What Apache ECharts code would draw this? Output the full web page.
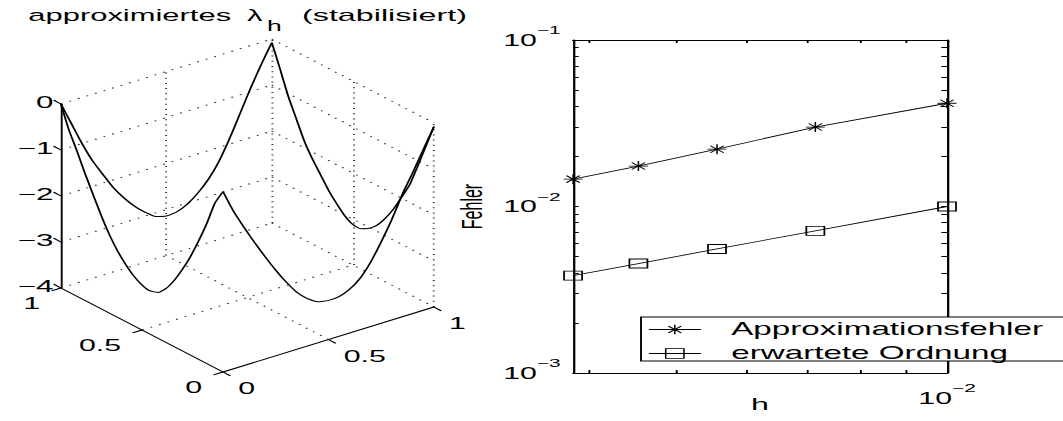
<!DOCTYPE html>
<html>
<head>
<meta charset="utf-8">
<script src="https://cdn.jsdelivr.net/npm/echarts@6/dist/echarts.min.js"></script>
<style>
  html, body { margin: 0; padding: 0; background: #fff; overflow: hidden; }
  /* the figure is laid out on a 560 px wide page and widened to fill the window */
  #chart { width: 560px; height: 421px; transform: scaleX(1.898214); transform-origin: 0 0; }
</style>
</head>
<body>
<div id="chart"></div>
<script>
// ---------- convergence study (right panel) ----------
const hValues       = [0.003846, 0.004545, 0.005556, 0.007143, 0.01];
const approxError   = [0.0146, 0.0175, 0.0221, 0.0300, 0.0417];
const expectedOrder = [0.003846, 0.004545, 0.005556, 0.007143, 0.01];
const hTickValues     = [0.004, 0.005, 0.006, 0.007, 0.008, 0.009, 0.01];
const hLabelValues    = [0.01];
const errorTickValues = [0.001, 0.002, 0.003, 0.004, 0.005, 0.006, 0.007, 0.008, 0.009,
                         0.01, 0.02, 0.03, 0.04, 0.05, 0.06, 0.07, 0.08, 0.09, 0.1];
const errorLabelValues = [0.001, 0.01, 0.1];
const seriesNames = ['Approximationsfehler', 'erwartete Ordnung'];

// ---------- approximated lambda_h on the boundary of the unit square (left panel) ----------
const edgeParam    = [0, 0.05, 0.1, 0.15, 0.2, 0.25, 0.3, 0.35, 0.4, 0.45, 0.5,
                      0.55, 0.6, 0.65, 0.7, 0.75, 0.8, 0.85, 0.9, 0.95, 1];
// edge y = 1, x running 0 -> 1
const lambdaTop    = [0, -0.50, -1.00, -1.45, -1.82, -2.18, -2.47, -2.72, -2.92, -3.08, -3.14,
                      -3.12, -3.02, -2.85, -2.62, -2.30, -1.88, -1.40, -0.92, -0.48, -0.08];
// edge x = 1, y running 1 -> 0
const lambdaRight  = [-0.08, -0.55, -1.05, -1.45, -1.85, -2.15, -2.40, -2.65, -2.85, -3.02, -3.12,
                      -3.12, -3.02, -2.86, -2.62, -2.33, -1.98, -1.62, -1.12, -0.60, -0.08];
// edge x = 0, y running 1 -> 0
const lambdaLeft   = [0, -0.48, -0.85, -1.25, -1.62, -1.98, -2.30, -2.56, -2.76, -2.92, -3.02,
                      -3.06, -3.00, -2.82, -2.55, -2.22, -1.85, -1.42, -0.95, -0.42, -0.08];
// edge y = 0, x running 0 -> 1
const lambdaBottom = [-0.08, -0.58, -1.00, -1.40, -1.78, -2.14, -2.47, -2.76, -2.97, -3.11, -3.15,
                      -3.14, -3.05, -2.88, -2.60, -2.23, -1.82, -1.34, -0.93, -0.50, -0.08];
const zTicks  = [0, -1, -2, -3, -4];
const xyTicks = [0, 0.5, 1];

const FONT = '"Liberation Sans", Arial, Helvetica, sans-serif';
const MINUS = '\u2212';
const W = 560, H = 421;

// Oblique view of the box [0,1] x [0,1] x [-4,0]: screen position of the floor
// corner (0,0,-4) and the screen step for one unit along x, y and z.
const VIEW = { ox: 117.5, oy: 372, ex: [111.1, -65], ey: [-85.4, -84], ez: 46, zFloor: -4 };
function project(x, y, z) {
  return [VIEW.ox + VIEW.ex[0] * x + VIEW.ey[0] * y,
          VIEW.oy + VIEW.ex[1] * x + VIEW.ey[1] * y - VIEW.ez * (z - VIEW.zFloor)];
}
function edgePoints(values, fx, fy) {
  return values.map((z, i) => project(fx(edgeParam[i]), fy(edgeParam[i]), z));
}
const seg = (a, b) => ({ coords: [a, b] });

// dotted grid on the two back walls and the floor
const gridSegs = [];
zTicks.forEach(z => {
  gridSegs.push(seg(project(0, 1, z), project(1, 1, z)));
  gridSegs.push(seg(project(1, 1, z), project(1, 0, z)));
});
[0.5, 1].forEach(x => gridSegs.push(seg(project(x, 1, -4), project(x, 1, 0))));
[0.5, 0].forEach(y => gridSegs.push(seg(project(1, y, -4), project(1, y, 0))));
gridSegs.push(seg(project(0.5, 0, -4), project(0.5, 1, -4)));
gridSegs.push(seg(project(0, 0.5, -4), project(1, 0.5, -4)));

// solid axes and their ticks
const TICK = 0.045;
const axisSegs = [
  seg(project(0, 1, -4), project(0, 1, 0)),
  seg(project(0, 1, -4), project(0, 0, -4)),
  seg(project(0, 0, -4), project(1, 0, -4))
];
zTicks.forEach(z => axisSegs.push(seg(project(0, 1, z), project(0, 1 + TICK, z))));
xyTicks.forEach(v => {
  axisSegs.push(seg(project(0, v, -4), project(-TICK, v, -4)));
  axisSegs.push(seg(project(v, 0, -4), project(v, -TICK, -4)));
});

const curveSeries = [
  edgePoints(lambdaTop,    t => t, t => 1),
  edgePoints(lambdaRight,  t => 1, t => 1 - t),
  edgePoints(lambdaLeft,   t => 0, t => 1 - t),
  edgePoints(lambdaBottom, t => t, t => 0)
].map(pts => ({
  type: 'line', xAxisIndex: 0, yAxisIndex: 0, data: pts, showSymbol: false, symbol: 'none',
  smooth: 0.2, silent: true, z: 4, lineStyle: { color: '#000', width: 1 }
}));

// ---------- log axes helpers ----------
function powLabel(v) {
  const e = Math.round(Math.log10(v));
  return '{b|10}{e|' + (e < 0 ? MINUS + (-e) : String(e)) + '}';
}
const powRich = {
  b: { fontSize: 16, lineHeight: 30, fontFamily: FONT, color: '#000' },
  e: { fontSize: 11, lineHeight: 11, verticalAlign: 'top', fontFamily: FONT, color: '#000' }
};
const boxLine = { show: true, onZero: false, lineStyle: { color: '#000', width: 1.2 } };
const innerTick = vals => ({ show: true, inside: true, length: 3, customValues: vals,
                             lineStyle: { color: '#000', width: 1 } });

const ASTERISK = 'path://M0,5L10,5M5,0L5,10M1.5,1.5L8.5,8.5M1.5,8.5L8.5,1.5';
const hMin = hValues[0], hMax = hValues[hValues.length - 1];

const option = {
  backgroundColor: '#fff',
  animation: false,
  grid: [
    { left: 0, top: 0, width: W, height: H, show: false, outerBoundsMode: 'none' },
    { left: 301.9, top: 40, width: 197, height: 333, show: false, outerBoundsMode: 'none' }
  ],
  xAxis: [
    { gridIndex: 0, type: 'value', min: 0, max: W, show: false },
    { gridIndex: 1, type: 'log', logBase: 10, min: hMin, max: hMax, position: 'bottom',
      axisLine: boxLine, axisTick: innerTick(hTickValues), splitLine: { show: false },
      axisLabel: { customValues: hLabelValues, formatter: powLabel, rich: powRich, margin: 10 },
      name: 'h', nameLocation: 'middle', nameGap: 23, nameMoveOverlap: false,
      nameTextStyle: { fontSize: 17, fontFamily: FONT, color: '#000', verticalAlign: 'top' } },
    { gridIndex: 1, type: 'log', logBase: 10, min: hMin, max: hMax, position: 'top',
      axisLine: boxLine, axisTick: innerTick(hTickValues), splitLine: { show: false },
      axisLabel: { show: false } }
  ],
  yAxis: [
    { gridIndex: 0, type: 'value', min: 0, max: H, inverse: true, show: false },
    { gridIndex: 1, type: 'log', logBase: 10, min: 0.001, max: 0.1, position: 'left',
      axisLine: boxLine, axisTick: innerTick(errorTickValues), splitLine: { show: false },
      axisLabel: { customValues: errorLabelValues, formatter: powLabel, rich: powRich, margin: 6.5 },
      name: 'Fehler', nameLocation: 'middle', nameGap: 45.5, nameRotate: 90, nameMoveOverlap: false,
      nameTextStyle: { fontSize: 16, fontFamily: FONT, color: '#000' } },
    { gridIndex: 1, type: 'log', logBase: 10, min: 0.001, max: 0.1, position: 'right',
      axisLine: boxLine, axisTick: innerTick(errorTickValues), splitLine: { show: false },
      axisLabel: { show: false } }
  ],
  legend: {
    orient: 'vertical', left: 341.4, top: 320.5, padding: 0, z: 20,
    itemWidth: 27.4, itemHeight: 12, itemGap: 6, selectedMode: false,
    lineStyle: { color: '#000', width: 0.8 },
    itemStyle: { borderColor: '#000', borderWidth: 0.8 },
    textStyle: { fontSize: 17.5, lineHeight: 17, fontFamily: FONT, color: '#000', padding: [0, 0, 0, 11] },
    data: seriesNames
  },
  series: [
    { type: 'lines', coordinateSystem: 'cartesian2d', xAxisIndex: 0, yAxisIndex: 0, silent: true, z: 1,
      polyline: false, data: gridSegs, lineStyle: { color: '#333', width: 1, type: [1, 4.2], opacity: 1 } },
    { type: 'lines', coordinateSystem: 'cartesian2d', xAxisIndex: 0, yAxisIndex: 0, silent: true, z: 2,
      polyline: false, data: axisSegs, lineStyle: { color: '#000', width: 1, opacity: 1 } },
    ...curveSeries,
    { name: seriesNames[0], type: 'line', xAxisIndex: 1, yAxisIndex: 1, z: 5,
      data: hValues.map((h, i) => [h, approxError[i]]),
      symbol: ASTERISK, symbolSize: 10,
      lineStyle: { color: '#000', width: 0.8 },
      itemStyle: { color: '#000', borderColor: '#000', borderWidth: 0.8 } },
    { name: seriesNames[1], type: 'line', xAxisIndex: 1, yAxisIndex: 1, z: 5,
      data: hValues.map((h, i) => [h, expectedOrder[i]]),
      symbol: 'rect', symbolSize: [9.5, 9],
      lineStyle: { color: '#000', width: 0.8 },
      itemStyle: { color: 'rgba(0,0,0,0)', borderColor: '#000', borderWidth: 0.9 } }
  ]
};

const chart = echarts.init(document.getElementById('chart'), null, { renderer: 'svg', width: W, height: H });
chart.setOption(option);

// ---------- texts of the oblique box, placed through the same projection ----------
const toPx = p => chart.convertToPixel({ gridIndex: 0 }, p);
const txt = (x, y, text, align, vAlign, size) => ({
  type: 'text', x: x, y: y, silent: true, z: 30,
  style: { text: text, fill: '#000', font: size + 'px ' + FONT, align: align, verticalAlign: vAlign }
});
const fmt = v => (v < 0 ? MINUS + (-v) : String(v));
const graphics = [];
zTicks.forEach(z => {
  const p = toPx(project(0, 1, z));
  graphics.push(txt(p[0] - 4, p[1] - 2, fmt(z), 'right', 'middle', 16.5));
});
xyTicks.forEach(v => {
  const p = toPx(project(0, v, -4));
  graphics.push(txt(p[0] - 11, p[1] + 15, fmt(v), 'right', 'middle', 16));
  const q = toPx(project(v, 0, -4));
  graphics.push(txt(q[0] + 8, q[1] + 16.5, fmt(v), 'left', 'middle', 16));
});

// title with subscript
graphics.push(txt(14.9, 15.5, 'approximiertes', 'left', 'middle', 16.3));
graphics.push(txt(130.1, 15.5, '\u03bb', 'left', 'middle', 16.3));
graphics.push(txt(140.7, 26.5, 'h', 'left', 'middle', 14));
graphics.push(txt(159.1, 15.5, '(stabilisiert)', 'left', 'middle', 17));

// frame of the legend (runs past the right border of the figure)
graphics.push({ type: 'rect', silent: true, z: 10,
  shape: { x: 337.7, y: 317, width: 300, height: 44 },
  style: { fill: '#fff', stroke: '#000', lineWidth: 1 } });

chart.setOption({ graphic: graphics });
</script>
</body>
</html>
